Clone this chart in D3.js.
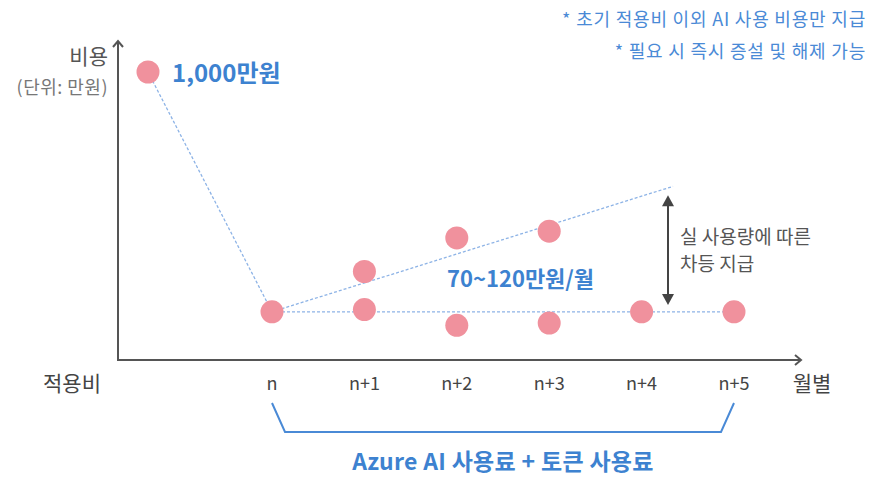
<!DOCTYPE html>
<html><head><meta charset="utf-8">
<script src="https://cdn.jsdelivr.net/npm/d3@7"></script>
<style>
html,body{margin:0;padding:0;background:#fff;}
svg{display:block;font-family:"Noto Sans CJK KR","Noto Sans",sans-serif;}
</style></head>
<body><svg id="c" width="874" height="478"></svg>
<script>
// ---- data ----
const monthLabels = ["n","n+1","n+2","n+3","n+4","n+5"];
const initialLabel = "적용비";
const initialCost = 1000;              // 만원
const baseValues = [70, 71, 64, 65, 70, 70];      // 만원/월 (lower band)
const upperMonths = ["n+1","n+2","n+3"];
const upperValues = [88, 103, 106];               // 만원/월 (upper band)
const baseTrend = [70, 70];                        // n -> n+5
const upperTrendStart = 70, upperTrendEnd = 126;   // n -> ~n+4.3
const rangeLow = 73, rangeHigh = 122;
const notes = ["* 초기 적용비 이외 AI 사용 비용만 지급", "* 필요 시 즉시 증설 및 해제 가능"];

// ---- layout ----
const svg = d3.select("#c");
const blue = "#3d82d0", pink = "#f0919d", dash = "#8db3e6", axisCol = "#555";
const x = d3.scaleLinear().domain([0, 5]).range([272, 734]);
const xm = d => x(monthLabels.indexOf(d));
const y = d3.scaleLinear().domain([48.5, 140, 1000]).range([360, 155, 72]);
const axisX0 = 118, axisY0 = 360, axisTop = 40, axisRight = 802;
const initX = 148;

// axes
svg.append("line").attr("x1",axisX0).attr("x2",axisX0).attr("y1",axisY0+1).attr("y2",axisTop+1)
  .attr("stroke",axisCol).attr("stroke-width",2);
svg.append("path").attr("d",`M${axisX0-5},${axisTop+7}L${axisX0},${axisTop+1}L${axisX0+5},${axisTop+7}`)
  .attr("fill","none").attr("stroke",axisCol).attr("stroke-width",2);
svg.append("line").attr("x1",axisX0-1).attr("x2",axisRight-1).attr("y1",axisY0).attr("y2",axisY0)
  .attr("stroke",axisCol).attr("stroke-width",2);
svg.append("path").attr("d",`M${axisRight-7},${axisY0-5}L${axisRight-1},${axisY0}L${axisRight-7},${axisY0+5}`)
  .attr("fill","none").attr("stroke",axisCol).attr("stroke-width",2);

// axis titles
svg.append("text").attr("x",108).attr("y",64).attr("text-anchor","end")
  .attr("font-size",21).attr("fill","#555").text("비용");
svg.append("text").attr("x",108).attr("y",94).attr("text-anchor","end")
  .attr("font-size",18).attr("letter-spacing",0.5).attr("fill","#777").text("(단위: 만원)");

// x labels
svg.selectAll("text.ml").data(monthLabels).join("text").attr("class","ml")
  .attr("x",d=>xm(d)).attr("y",390).attr("text-anchor","middle")
  .attr("font-size",18).attr("fill","#444").text(d=>d);
svg.append("text").attr("x",72).attr("y",391).attr("text-anchor","middle")
  .attr("font-size",21).attr("fill","#444").text(initialLabel);
svg.append("text").attr("x",812).attr("y",391).attr("text-anchor","middle")
  .attr("font-size",21).attr("fill","#444").text("월별");

// dashed lines
const line = d3.line().x(d=>d[0]).y(d=>d[1]);
const dl = pts => svg.append("path").attr("d",line(pts)).attr("fill","none")
  .attr("stroke",dash).attr("stroke-width",1.3).attr("stroke-dasharray","3,2");
dl([[initX,y(initialCost)],[x(0),y(baseValues[0])]]);
dl([[x(0),y(baseTrend[0])],[x(5),y(baseTrend[1])]]);
dl([[x(0),y(upperTrendStart)],[x(4.34),y(upperTrendEnd)]]);

// points
const pts = [[initX,y(initialCost)]]
  .concat(baseValues.map((v,i)=>[x(i),y(v)]))
  .concat(upperValues.map((v,i)=>[xm(upperMonths[i]),y(v)]));
svg.selectAll("circle").data(pts).join("circle")
  .attr("cx",d=>d[0]).attr("cy",d=>d[1]).attr("r",11.5).attr("fill",pink);

// value labels
svg.append("text").attr("x",172).attr("y",82).attr("font-size",24).attr("font-weight",700)
  .attr("fill",blue).text("1,000만원");
svg.append("text").attr("x",447).attr("y",287).attr("font-size",22).attr("font-weight",700)
  .attr("fill",blue).text("70~120만원/월");

// range arrow
const ax = 668, yt = y(rangeHigh), yb = y(rangeLow);
svg.append("line").attr("x1",ax).attr("x2",ax).attr("y1",yt+8).attr("y2",yb-8)
  .attr("stroke","#444").attr("stroke-width",2);
svg.append("path").attr("d",`M${ax},${yt}L${ax-6},${yt+11}L${ax+6},${yt+11}Z`).attr("fill","#444");
svg.append("path").attr("d",`M${ax},${yb}L${ax-6},${yb-11}L${ax+6},${yb-11}Z`).attr("fill","#444");
svg.append("text").attr("x",680).attr("y",244).attr("font-size",19).attr("fill","#555").text("실 사용량에 따른");
svg.append("text").attr("x",680).attr("y",271).attr("font-size",19).attr("fill","#555").text("차등 지급");

// bracket
svg.append("path").attr("d",`M${x(0)},403L${x(0)+13},432L${x(5)-13},432L${x(5)},403`)
  .attr("fill","none").attr("stroke","#4a8ad6").attr("stroke-width",2);
svg.append("text").attr("x",(x(0)+x(5))/2).attr("y",470).attr("text-anchor","middle")
  .attr("font-size",23).attr("font-weight",700).attr("letter-spacing",0.3).attr("fill",blue).text("Azure AI 사용료 + 토큰 사용료");

// notes
svg.selectAll("text.note").data(notes).join("text").attr("class","note")
  .attr("x",866).attr("y",(d,i)=>26+i*32).attr("text-anchor","end")
  .attr("font-size",18).attr("letter-spacing",0.8).attr("fill","#4a8ad6").text(d=>d);
</script></body></html>
